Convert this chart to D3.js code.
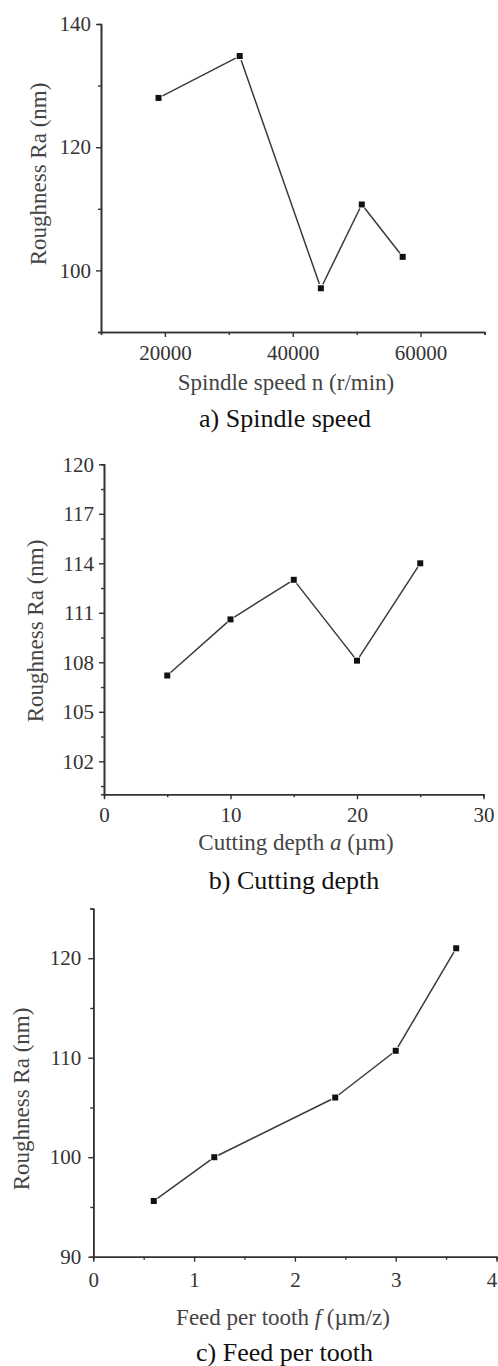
<!DOCTYPE html>
<html>
<head>
<meta charset="utf-8">
<script src="https://cdn.jsdelivr.net/npm/d3@7"></script>
<style>
  html, body { margin: 0; padding: 0; background: #fff; }
  svg { display: block; }
  svg text { font-family: "Liberation Serif", "DejaVu Serif", serif; }
</style>
</head>
<body>
<svg id="chart" width="498" height="1366" font-family="Liberation Serif, DejaVu Serif, serif"></svg>
<script>
// a) Spindle speed
const speedValues = [19000, 31700, 44400, 50800, 57200];
const speedRoughness = [128.0, 134.8, 97.1, 110.7, 102.2];
const speedTicks = [20000, 40000, 60000];
const speedMinorTicks = [10000, 30000, 50000, 70000];
const speedRaTicks = [100, 120, 140];
const speedRaMinorTicks = [90, 110, 130];

// b) Cutting depth
const depthValues = [5, 10, 15, 20, 25];
const depthRoughness = [107.2, 110.6, 113.0, 108.1, 114.0];
const depthTicks = [0, 10, 20, 30];
const depthMinorTicks = [5, 15, 25];
const depthRaTicks = [102, 105, 108, 111, 114, 117, 120];
const depthRaMinorTicks = [100.5, 103.5, 106.5, 109.5, 112.5, 115.5, 118.5];

// c) Feed per tooth
const feedValues = [0.6, 1.2, 2.4, 3.0, 3.6];
const feedRoughness = [95.6, 100.0, 106.0, 110.7, 121.0];
const feedTicks = [0, 1, 2, 3, 4];
const feedMinorTicks = [0.5, 1.5, 2.5, 3.5];
const feedRaTicks = [90, 100, 110, 120];
const feedRaMinorTicks = [95, 105, 115, 125];

const yTitle = "Roughness Ra (nm)";
const serif = "'Liberation Serif', 'DejaVu Serif', serif";

const svg = d3.select("#chart");

function drawPanel(cfg) {
  const x = d3.scaleLinear().domain(cfg.xDomain).range([cfg.left, cfg.right]);
  const y = d3.scaleLinear().domain(cfg.yDomain).range([cfg.bottom, cfg.top]);
  const g = svg.append("g");

  // minor ticks first, then the major axis with labels
  const xMinor = d3.axisBottom(x).tickValues(cfg.xMinor).tickSize(3).tickFormat("");
  const yMinor = d3.axisLeft(y).tickValues(cfg.yMinor).tickSize(3).tickFormat("");
  const xAxis = d3.axisBottom(x).tickValues(cfg.xTicks).tickSize(5).tickSizeOuter(0)
    .tickPadding(cfg.xPad).tickFormat(d3.format("d"));
  const yAxis = d3.axisLeft(y).tickValues(cfg.yTicks).tickSize(5).tickSizeOuter(0)
    .tickPadding(cfg.yPad).tickFormat(d3.format("d"));

  [xMinor, xAxis].forEach(ax => {
    g.append("g").attr("class", "axis").attr("transform", `translate(0,${cfg.bottom})`).call(ax);
  });
  [yMinor, yAxis].forEach(ax => {
    g.append("g").attr("class", "axis").attr("transform", `translate(${cfg.left},0)`).call(ax);
  });

  g.selectAll(".axis").attr("font-family", null).attr("font-size", null);
  g.selectAll(".domain").attr("stroke", "#333").attr("stroke-width", 1.6);
  g.selectAll(".tick line").attr("stroke", "#333").attr("stroke-width", 1.4);
  g.selectAll(".tick text")
    .attr("fill", "#333")
    .style("font-family", serif)
    .style("font-size", "21px");

  // keep a label that sits on the right edge inside the page
  if (cfg.lastLabelDx) {
    g.selectAll(".tick text").filter(d => d === cfg.xTicks[cfg.xTicks.length - 1])
      .attr("dx", cfg.lastLabelDx);
  }

  // connecting segments, kept short of each marker
  const pts = cfg.xs.map((v, i) => [x(v), y(cfg.ys[i])]);
  const gap = 4.5;
  const segs = d3.pairs(pts).map(([a, b]) => {
    const dx = b[0] - a[0], dy = b[1] - a[1];
    const len = Math.hypot(dx, dy);
    const ux = dx / len, uy = dy / len;
    return [a[0] + ux * gap, a[1] + uy * gap, b[0] - ux * gap, b[1] - uy * gap];
  });
  g.selectAll(".seg").data(segs).join("line")
    .attr("x1", d => d[0]).attr("y1", d => d[1])
    .attr("x2", d => d[2]).attr("y2", d => d[3])
    .attr("stroke", "#3a3a3a").attr("stroke-width", 1.5);

  const ms = 6;
  g.selectAll(".pt").data(pts).join("rect")
    .attr("x", d => d[0] - ms / 2).attr("y", d => d[1] - ms / 2)
    .attr("width", ms).attr("height", ms)
    .attr("fill", "#111");

  // axis titles and caption
  g.append("text")
    .attr("transform", `translate(${cfg.yTitleX},${cfg.yTitleY}) rotate(-90)`)
    .attr("text-anchor", "middle").attr("dominant-baseline", "central")
    .attr("fill", "#444").style("font-family", serif).style("font-size", "23px")
    .text(yTitle);

  const xt = g.append("text")
    .attr("x", cfg.xTitleX).attr("y", cfg.xTitleY)
    .attr("text-anchor", "middle").attr("dominant-baseline", "central")
    .attr("fill", "#444").style("font-family", serif).style("font-size", "23px");
  cfg.xTitle.forEach(part => {
    xt.append("tspan").style("font-style", part.italic ? "italic" : "normal").text(part.t);
  });

  g.append("text")
    .attr("x", cfg.capX).attr("y", cfg.capY)
    .attr("text-anchor", "middle").attr("dominant-baseline", "central")
    .attr("fill", "#111").style("font-family", serif).style("font-size", "26px")
    .text(cfg.caption);
}

drawPanel({
  xs: speedValues, ys: speedRoughness,
  xDomain: [10000, 70000], yDomain: [90, 140],
  left: 101, right: 484.5, top: 24, bottom: 332,
  xTicks: speedTicks, xMinor: speedMinorTicks,
  yTicks: speedRaTicks, yMinor: speedRaMinorTicks,
  xPad: 8, yPad: 5,
  yTitleX: 38.5, yTitleY: 174,
  xTitle: [{ t: "Spindle speed  n (r/min)" }], xTitleX: 286, xTitleY: 382,
  caption: "a) Spindle speed", capX: 285, capY: 418
});

drawPanel({
  xs: depthValues, ys: depthRoughness,
  xDomain: [0, 30], yDomain: [100, 120],
  left: 104, right: 483.5, top: 464.3, bottom: 794.3,
  xTicks: depthTicks, xMinor: depthMinorTicks,
  yTicks: depthRaTicks, yMinor: depthRaMinorTicks,
  xPad: 8, yPad: 5,
  yTitleX: 35, yTitleY: 631,
  xTitle: [{ t: "Cutting depth " }, { t: "a", italic: true }, { t: " (\u00b5m)" }], xTitleX: 296, xTitleY: 842,
  caption: "b) Cutting depth", capX: 294, capY: 880
});

drawPanel({
  xs: feedValues, ys: feedRoughness,
  xDomain: [0, 4], yDomain: [90, 125],
  left: 93.3, right: 496.5, top: 908.5, bottom: 1256.7,
  xTicks: feedTicks, xMinor: feedMinorTicks,
  yTicks: feedRaTicks, yMinor: feedRaMinorTicks,
  xPad: 10, yPad: 7, lastLabelDx: -5,
  yTitleX: 21.7, yTitleY: 1099,
  xTitle: [{ t: "Feed per tooth " }, { t: "f", italic: true }, { t: " (\u00b5m/z)" }], xTitleX: 283, xTitleY: 1317,
  caption: "c) Feed per tooth", capX: 284.5, capY: 1352
});
</script>
</body>
</html>
